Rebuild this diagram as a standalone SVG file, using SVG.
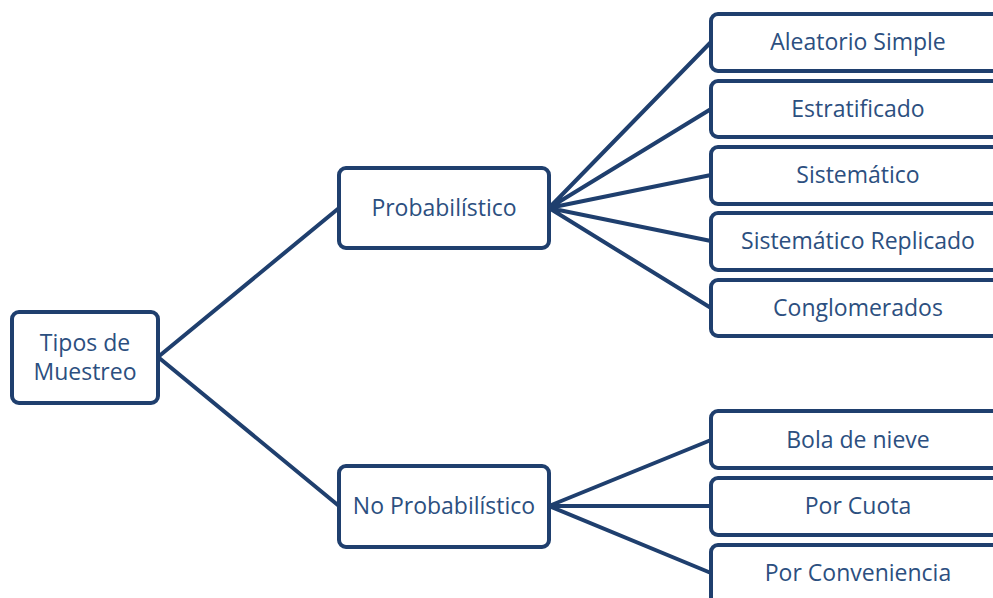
<svg xmlns="http://www.w3.org/2000/svg" width="993" height="598" viewBox="0 0 993 598">
<style>
.box{fill:#fff;stroke:#1f3f6e;stroke-width:4}
.lnk{stroke:#1f3f6e;stroke-width:4;fill:none;stroke-linecap:round}
text{font-family:"Open Sans","Liberation Sans",sans-serif;font-size:23px;fill:#2c4f80;text-anchor:middle;dominant-baseline:central}
</style>
<rect width="993" height="598" fill="#fff"/>
<g id="connectors">
<path class="lnk" d="M158 357L339 208M158 357L339 506"/>
<path class="lnk" d="M549 208L711 42M549 208L711 109M549 208L711 175M549 208L711 241M549 208L711 308"/>
<path class="lnk" d="M549 506L711 440M549 506L711 506M549 506L711 573"/>
</g>
<g id="tipos"><rect class="box" x="12" y="312" width="146" height="91" rx="7"/><text x="85" y="342">Tipos de</text><text x="85" y="371">Muestreo</text></g>
<g id="prob"><rect class="box" x="339" y="168" width="210" height="80" rx="7"/><text x="444" y="207">Probabilístico</text></g>
<g id="noprob"><rect class="box" x="339" y="466" width="210" height="81" rx="7"/><text x="444" y="505">No Probabilístico</text></g>
<g id="aleatorio"><rect class="box" x="711" y="14" width="300" height="57" rx="7"/><text x="858" y="41">Aleatorio Simple</text></g>
<g id="estratificado"><rect class="box" x="711" y="81" width="300" height="56" rx="7"/><text x="858" y="108">Estratificado</text></g>
<g id="sistematico"><rect class="box" x="711" y="147" width="300" height="57" rx="7"/><text x="858" y="174">Sistemático</text></g>
<g id="replicado"><rect class="box" x="711" y="213" width="300" height="57" rx="7"/><text x="858" y="240">Sistemático Replicado</text></g>
<g id="conglomerados"><rect class="box" x="711" y="280" width="300" height="56" rx="7"/><text x="858" y="307">Conglomerados</text></g>
<g id="bola"><rect class="box" x="711" y="411" width="300" height="57" rx="7"/><text x="858" y="439">Bola de nieve</text></g>
<g id="cuota"><rect class="box" x="711" y="478" width="300" height="57" rx="7"/><text x="858" y="505">Por Cuota</text></g>
<g id="conveniencia"><rect class="box" x="711" y="545" width="300" height="70" rx="7"/><text x="858" y="572">Por Conveniencia</text></g>
</svg>
